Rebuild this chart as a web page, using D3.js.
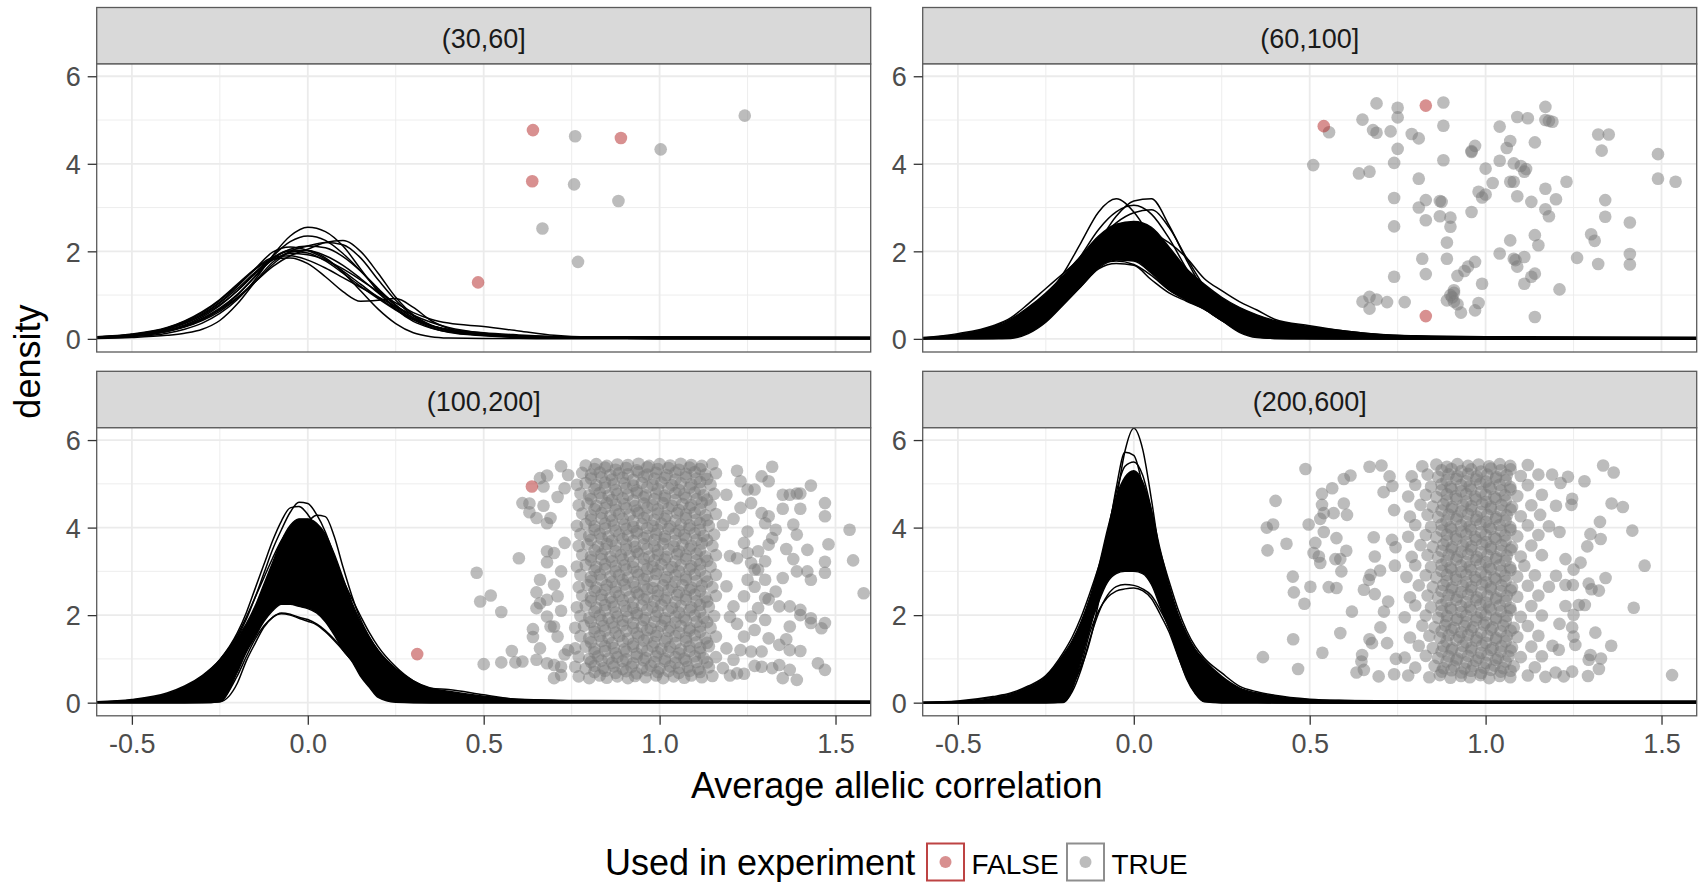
<!DOCTYPE html>
<html><head><meta charset="utf-8">
<script src="https://cdn.jsdelivr.net/npm/d3@7"></script>
<style>
body{margin:0;background:#fff}
svg{display:block}
text{font-family:"Liberation Sans",Arial,Helvetica,sans-serif}
</style>
</head><body>
<svg id="c" width="1703" height="882"></svg>
<script>
// ---------- categories & ticks ----------
const panelLabels = ["(30,60]", "(60,100]", "(100,200]", "(200,600]"];
const xTicks = [-0.5, 0, 0.5, 1, 1.5];
const xMinor = [-0.25, 0.25, 0.75, 1.25];
const yTicks = [0, 2, 4, 6];
const yMinor = [1, 3, 5];
const legendLabels = ["FALSE", "TRUE"];

// ---------- density curves (x grids + y values) ----------
const gridCoarse = [-0.6,-0.5,-0.4,-0.35,-0.3,-0.25,-0.2,-0.15,-0.1,-0.05,0,0.05,0.1,0.15,0.2,0.25,0.3,0.35,0.4,0.5,0.6,0.7,0.8,1.0,1.6];
const gridFine = [-0.6,-0.5,-0.4,-0.35,-0.3,-0.25,-0.2,-0.175,-0.15,-0.125,-0.1,-0.075,-0.05,-0.025,0,0.025,0.05,0.075,0.1,0.125,0.15,0.175,0.2,0.25,0.3,0.35,0.4,0.5,0.6,0.8,1.0,1.6];

const p1Curves = [
 [0.02,0.05,0.13,0.22,0.36,0.58,0.9,1.35,1.9,2.35,2.55,2.45,2.12,1.6,1.08,0.68,0.4,0.25,0.16,0.08,0.04,0.03,0.03,0.03,0.03],
 [0.03,0.07,0.18,0.29,0.45,0.68,1.0,1.42,1.88,2.22,2.35,2.25,1.95,1.55,1.12,0.76,0.48,0.3,0.19,0.09,0.05,0.03,0.02,0.02,0.02],
 [0.03,0.07,0.17,0.27,0.42,0.63,0.93,1.3,1.7,2.0,2.12,2.2,2.15,1.85,1.35,0.88,0.52,0.3,0.18,0.09,0.05,0.03,0.02,0.01,0.01],
 [0.04,0.1,0.24,0.38,0.57,0.84,1.2,1.6,1.98,2.1,2.02,1.82,1.55,1.25,0.95,0.68,0.45,0.3,0.2,0.1,0.06,0.05,0.04,0.04,0.035],
 [0.04,0.1,0.25,0.4,0.6,0.88,1.22,1.58,1.82,1.85,1.72,1.42,1.08,0.86,0.88,0.92,0.72,0.42,0.24,0.1,0.05,0.03,0.02,0.01,0],
 [0.01,0.03,0.08,0.13,0.22,0.42,0.8,1.3,1.75,1.98,2.02,1.9,1.68,1.38,1.05,0.72,0.44,0.26,0.15,0.07,0.03,0.02,0.02,0.02,0.015],
 [0.04,0.09,0.22,0.35,0.53,0.78,1.1,1.48,1.8,1.95,1.92,1.8,1.6,1.35,1.08,0.82,0.6,0.45,0.36,0.28,0.18,0.08,0.04,0.03,0.02],
 [0.03,0.08,0.2,0.32,0.5,0.76,1.1,1.5,1.85,2.03,2.02,1.85,1.52,1.1,0.68,0.35,0.14,0.05,0.02,0.01,0.01,0,0,0,0],
 [0.03,0.07,0.17,0.28,0.44,0.66,0.95,1.3,1.65,1.9,2.05,2.2,2.25,2.0,1.5,0.95,0.55,0.32,0.2,0.1,0.05,0.03,0.02,0.01,0.01],
 [0.05,0.11,0.26,0.41,0.62,0.9,1.25,1.6,1.86,1.9,1.8,1.62,1.4,1.18,0.96,0.74,0.54,0.38,0.26,0.13,0.07,0.05,0.04,0.04,0.03],
 [0.04,0.09,0.22,0.36,0.55,0.82,1.15,1.52,1.85,2.0,1.96,1.78,1.5,1.2,0.92,0.66,0.44,0.3,0.22,0.14,0.09,0.05,0.03,0.03,0.025],
 [0.03,0.07,0.18,0.3,0.47,0.7,1.02,1.42,1.82,2.05,2.12,2.08,1.88,1.55,1.15,0.78,0.48,0.3,0.2,0.11,0.06,0.03,0.02,0.01,0.005]
];

const p2BandUpper = [0.02,0.1,0.28,0.45,0.72,1.05,1.45,1.9,2.35,2.62,2.68,2.55,2.1,1.6,1.25,0.95,0.72,0.55,0.42,0.28,0.18,0.1,0.07,0.05,0.04];
const p2BandLower = [0,0,0,0.01,0.12,0.38,0.78,1.2,1.62,1.8,1.78,1.5,1.12,0.88,0.68,0.42,0.15,0.03,0.01,0,0,0,0,0,0];
const p2Curves = [
 [0.01,0.04,0.15,0.3,0.55,0.95,1.5,2.2,2.9,3.2,2.9,2.3,1.65,1.1,0.7,0.42,0.25,0.15,0.1,0.05,0.02,0.01,0.01,0,0],
 [0.01,0.03,0.1,0.2,0.38,0.68,1.1,1.6,2.2,2.8,3.15,3.2,2.6,1.8,1.1,0.62,0.32,0.16,0.08,0.03,0.01,0.01,0,0,0],
 [0.01,0.04,0.13,0.25,0.45,0.8,1.3,1.9,2.5,2.9,3.05,2.85,2.3,1.6,1.0,0.58,0.32,0.18,0.1,0.04,0.02,0.01,0,0,0],
 [0.01,0.05,0.15,0.28,0.48,0.8,1.25,1.75,2.25,2.65,2.88,2.95,2.55,1.85,1.2,0.72,0.42,0.25,0.15,0.06,0.03,0.01,0.01,0,0],
 [0.03,0.12,0.3,0.48,0.8,1.15,1.5,1.85,2.2,2.45,2.5,2.42,2.2,1.85,1.38,1.1,0.85,0.66,0.45,0.3,0.18,0.1,0.06,0.03,0.02],
 [0,0,0.01,0.03,0.18,0.42,0.8,1.2,1.6,1.72,1.68,1.35,1.05,0.86,0.68,0.42,0.18,0.05,0.01,0,0,0,0,0,0],
 [0,0.01,0.03,0.08,0.25,0.5,0.9,1.32,1.72,1.78,1.7,1.45,1.12,0.92,0.75,0.55,0.3,0.12,0.04,0.01,0,0,0,0,0]
];

const p3BandUpper = [0.01,0.05,0.18,0.35,0.6,0.95,1.5,1.8,2.2,2.7,3.2,3.7,4.05,4.2,4.2,4.1,3.85,3.4,2.85,2.3,1.85,1.5,1.2,0.78,0.5,0.33,0.26,0.15,0.08,0.05,0.045,0.04];
const p3BandLower = [0,0,0,0,0,0.02,0.7,1.15,1.5,1.85,2.1,2.25,2.25,2.2,2.15,2.05,1.85,1.55,1.2,0.95,0.6,0.35,0.12,0.01,0,0,0,0,0,0,0,0];
const p3Curves = [
 [0.01,0.05,0.17,0.3,0.52,0.88,1.5,1.9,2.4,2.95,3.5,3.95,4.35,4.58,4.55,4.3,3.9,3.35,2.75,2.2,1.7,1.3,1.0,0.6,0.36,0.22,0.14,0.06,0.03,0.01,0.01,0],
 [0.01,0.06,0.2,0.36,0.6,0.98,1.6,2.05,2.6,3.15,3.7,4.15,4.45,4.48,4.3,3.95,3.45,2.9,2.35,1.85,1.45,1.12,0.88,0.55,0.35,0.22,0.15,0.07,0.03,0.01,0.01,0],
 [0.01,0.04,0.14,0.26,0.45,0.78,1.3,1.65,2.1,2.6,3.1,3.55,3.9,4.1,4.15,4.28,4.25,3.8,3.1,2.45,1.9,1.5,1.18,0.75,0.46,0.3,0.22,0.1,0.05,0.02,0.01,0],
 [0.02,0.07,0.22,0.38,0.62,0.98,1.55,1.95,2.4,2.85,3.3,3.7,3.95,4.0,3.95,3.8,3.55,3.2,2.8,2.38,1.98,1.6,1.28,0.82,0.5,0.33,0.3,0.18,0.07,0.03,0.02,0.01],
 [0,0,0,0,0.01,0.05,0.62,1.05,1.45,1.75,1.95,2.03,2.0,1.93,1.86,1.78,1.62,1.42,1.2,0.96,0.7,0.42,0.2,0.04,0.01,0,0,0,0,0,0,0],
 [0,0,0,0,0,0.02,0.45,0.95,1.35,1.72,1.95,2.05,2.02,1.95,1.9,1.8,1.65,1.45,1.22,0.98,0.65,0.38,0.15,0.03,0,0,0,0,0,0,0,0]
];

const p4BandUpper = [0.01,0.03,0.12,0.2,0.36,0.6,1.1,1.42,1.85,2.4,3.1,3.95,4.7,5.15,5.3,5.05,4.4,3.5,2.7,2.05,1.58,1.22,0.98,0.6,0.34,0.22,0.15,0.07,0.05,0.045,0.04,0.04];
const p4BandLower = [0,0,0,0,0,0,0,0.3,0.95,1.7,2.3,2.75,2.95,3.0,3.0,2.95,2.7,2.2,1.7,1.1,0.55,0.2,0.02,0,0,0,0,0,0,0,0,0];
const p4Curves = [
 [0,0,0.01,0.02,0.04,0.09,0.25,0.45,0.8,1.4,2.3,3.4,4.6,5.75,6.27,5.8,4.65,3.3,2.1,1.25,0.7,0.38,0.2,0.06,0.02,0.01,0,0,0,0,0,0],
 [0,0.01,0.02,0.04,0.08,0.18,0.42,0.7,1.1,1.7,2.6,3.7,4.9,5.72,5.65,4.95,3.9,2.85,1.95,1.25,0.78,0.48,0.3,0.12,0.05,0.02,0.01,0,0,0,0,0],
 [0,0.01,0.03,0.06,0.12,0.25,0.55,0.88,1.35,2.0,2.85,3.85,4.8,5.4,5.5,5.2,4.4,3.4,2.45,1.65,1.05,0.65,0.4,0.16,0.07,0.03,0.02,0.01,0,0,0,0],
 [0.01,0.04,0.14,0.22,0.38,0.62,1.15,1.5,1.95,2.5,3.1,3.75,4.25,4.55,4.6,4.45,4.05,3.45,2.78,2.15,1.65,1.28,1.02,0.68,0.38,0.25,0.17,0.08,0.05,0.03,0.02,0.01],
 [0,0,0,0,0,0,0.02,0.35,0.85,1.6,2.1,2.4,2.55,2.6,2.62,2.56,2.38,2.02,1.62,1.08,0.58,0.22,0.03,0,0,0,0,0,0,0,0,0],
 [0,0,0,0,0,0,0.01,0.25,0.75,1.45,2.05,2.45,2.65,2.7,2.68,2.6,2.45,2.12,1.72,1.2,0.65,0.28,0.06,0,0,0,0,0,0,0,0,0]
];

// ---------- jittered points [x, y] ----------
const p1False = [[.64,4.77],[.638,3.6],[.89,4.59],[.484,1.29]];
const p1True = [[.76,4.63],[.757,3.53],[.667,2.52],[.768,1.76],[.883,3.15],[1.003,4.33],[1.242,5.1]];

const p2False = [[.54,4.86],[.83,5.33],[.83,.52]];
const p2True = [[.51,3.97],[.555,4.72],[.65,5.01],[.69,5.38],[.68,4.77],[.69,4.71],[.73,4.74],[.75,5.28],[.75,5.06],[.75,4.34],[.74,4.02],[.64,3.78],[.67,3.82],[.79,4.68],[.81,4.58],[.88,5.4],[.88,4.87],[.88,4.08],[.81,3.66],[.74,3.22],[.83,3.17],[.81,3.0],[.87,3.15],[.875,3.13],[.83,2.71],[.87,2.8],[.90,2.77],[.90,2.56],[.74,2.57],[.89,2.2],[.82,1.83],[.89,1.83],[.74,1.42],[.83,1.48],[.92,1.44],[.94,1.55],[.95,1.65],[.97,1.76],[.99,1.26],[.91,1.11],[.90,1.0],[.89,.88],[.91,.85],[.92,.79],[.93,.6],[.97,.65],[.98,.82],[.65,.85],[.67,.96],[.69,.9],[.67,.69],[.72,.84],[.77,.84],[.96,2.9],[.97,4.41],[.96,4.27],[1.0,3.89],[1.02,3.56],[.98,3.36],[.99,3.23],[1.0,3.3],[1.04,4.85],[1.09,5.07],[1.12,5.04],[1.17,5.3],[1.17,5.0],[1.19,4.96],[1.18,4.98],[1.07,4.52],[1.06,4.36],[1.14,4.49],[1.04,4.07],[1.08,4.01],[1.10,3.95],[1.11,3.82],[1.115,3.88],[1.07,3.59],[1.08,3.59],[1.17,3.43],[1.23,3.59],[1.2,3.19],[1.09,3.26],[1.13,3.13],[1.17,2.96],[1.18,2.8],[1.14,2.37],[1.15,2.14],[1.07,2.25],[1.04,1.95],[1.08,1.83],[1.085,1.8],[1.11,1.87],[1.09,1.65],[1.14,1.49],[1.11,1.26],[1.13,1.42],[1.21,1.13],[1.14,.5],[1.32,4.67],[1.35,4.67],[1.33,4.3],[1.49,4.22],[1.49,3.66],[1.54,3.59],[1.34,3.17],[1.34,2.79],[1.41,2.66],[1.30,2.39],[1.31,2.24],[1.26,1.85],[1.32,1.71],[1.41,1.94],[1.41,1.7],[.96,4.29],[.905,.95],[.91,1.05]];

const p3False = [[.637,4.94],[.311,1.11]];
const p3TrueOuter = [[.48,2.97],[.49,2.31],[.52,2.45],[.55,2.07],[.50,.88],[.55,.92],[.59,.92],[.58,1.18],[.61,.94],[.60,3.30],[.61,4.56],[.63,4.55],[.63,4.35],[.65,4.22],[.68,4.10],[.69,4.22],[.67,4.5],[.66,5.13],[.68,5.19],[.67,4.94],[.72,5.4],[.73,3.65],[.68,3.46],[.70,3.42],[.68,3.21],[.66,2.81],[.65,2.52],[.65,2.16],[.66,2.27],[.68,2.35],[.71,2.43],[.64,1.68],[.64,1.5],[.68,1.97],[.69,1.74],[.70,1.74],[.71,1.51],[.66,1.24],[.65,.98],[.68,.9],[.70,.86],[.72,.82],[.70,.56],[.72,.63],[.74,1.2],[.70,2.7],[.72,3.0],[.71,4.7],[.73,4.9],[.74,5.2],[.72,2.1],[.73,1.1],
[1.32,5.39],[1.29,5.17],[1.31,5.06],[1.43,4.96],[1.35,4.75],[1.37,4.75],[1.39,4.78],[1.40,4.78],[1.47,4.56],[1.47,4.26],[1.35,4.43],[1.40,4.43],[1.54,3.95],[1.38,4.07],[1.39,3.84],[1.48,3.62],[1.42,3.49],[1.55,3.25],[1.47,3.22],[1.36,3.51],[1.38,3.28],[1.39,3.0],[1.42,3.0],[1.43,2.81],[1.47,2.97],[1.58,2.5],[1.35,2.85],[1.33,2.54],[1.34,2.2],[1.37,2.2],[1.40,2.0],[1.40,2.12],[1.43,1.93],[1.43,1.82],[1.46,1.7],[1.47,1.82],[1.37,1.74],[1.31,1.47],[1.34,1.32],[1.36,1.45],[1.37,1.2],[1.40,1.18],[1.45,.9],[1.47,.75],[1.39,.52],[1.35,.56],[1.37,.75],[1.34,.86],[1.32,.79],[1.29,.82],[1.27,.84],[1.24,.66],[1.22,.67],[1.26,1.17],[1.29,1.17],[1.27,1.66],[1.30,1.89],[1.28,2.16],[1.30,2.39],[1.31,2.36],[1.27,2.65],[1.30,2.81],[1.28,3.04],[1.27,3.04],[1.30,3.23],[1.28,3.46],[1.31,3.61],[1.32,3.76],[1.33,3.95],[1.30,4.1],[1.31,4.26],[1.29,4.33],[1.26,4.56],[1.27,4.87],[1.25,4.87],[1.23,5.06],[1.23,4.45],[1.25,3.91],[1.24,3.65],[1.25,3.42],[1.26,3.19],[1.25,2.81],[1.24,2.43],[1.26,1.97],[1.24,1.51],[1.23,1.2],[1.21,.98],[1.22,5.3],[1.21,4.2],[1.22,3.3],[1.21,2.2],[1.22,1.8],[1.2,.62]];
const p3TrueCore = [
[.77,.60],[.80,.56],[.83,.62],[.85,.57],[.88,.60],[.91,.56],[.93,.61],[.96,.58],[.99,.62],[1.01,.56],[1.04,.60],[1.07,.57],[1.09,.62],[1.12,.58],[1.15,.61],
[.76,.82],[.79,.78],[.815,.84],[.84,.79],[.87,.83],[.895,.77],[.92,.82],[.95,.79],[.975,.84],[1.0,.78],[1.03,.83],[1.055,.79],[1.08,.82],[1.11,.77],[1.14,.81],[1.18,.79],
[.77,1.05],[.80,1.0],[.825,1.06],[.855,1.01],[.88,1.04],[.905,.99],[.935,1.05],[.96,1.02],[.99,1.06],[1.015,1.0],[1.045,1.04],[1.07,1.01],[1.10,1.06],[1.125,1.02],[1.16,1.04],
[.76,1.24],[.79,1.28],[.815,1.23],[.845,1.29],[.87,1.25],[.90,1.22],[.925,1.28],[.95,1.24],[.98,1.29],[1.005,1.23],[1.03,1.27],[1.06,1.22],[1.085,1.28],[1.115,1.25],[1.14,1.29],[1.19,1.24],
[.775,1.52],[.80,1.47],[.83,1.53],[.855,1.48],[.885,1.52],[.91,1.46],[.94,1.51],[.965,1.48],[.99,1.53],[1.02,1.47],[1.045,1.52],[1.075,1.49],[1.10,1.54],[1.13,1.47],[1.16,1.51],
[.76,1.71],[.785,1.76],[.815,1.70],[.84,1.75],[.87,1.72],[.895,1.77],[.925,1.71],[.95,1.74],[.975,1.70],[1.005,1.76],[1.03,1.72],[1.06,1.75],[1.085,1.70],[1.115,1.74],[1.145,1.71],
[.775,1.98],[.80,1.94],[.83,1.99],[.855,1.93],[.88,1.97],[.91,1.95],[.935,2.0],[.96,1.94],[.99,1.98],[1.015,1.93],[1.045,1.97],[1.07,1.95],[1.10,1.99],[1.125,1.94],[1.155,1.98],[1.20,1.96],
[.765,2.18],[.79,2.22],[.82,2.17],[.845,2.23],[.87,2.19],[.90,2.21],[.925,2.16],[.95,2.22],[.98,2.18],[1.005,2.23],[1.035,2.17],[1.06,2.21],[1.09,2.18],[1.115,2.23],[1.14,2.19],
[.78,2.45],[.805,2.41],[.835,2.46],[.86,2.40],[.885,2.44],[.915,2.42],[.94,2.47],[.965,2.41],[.995,2.45],[1.02,2.40],[1.05,2.46],[1.075,2.43],[1.10,2.47],[1.13,2.41],[1.16,2.44],
[.77,2.64],[.795,2.69],[.82,2.63],[.85,2.68],[.875,2.65],[.90,2.70],[.93,2.64],[.955,2.67],[.98,2.62],[1.01,2.68],[1.035,2.65],[1.065,2.69],[1.09,2.63],[1.12,2.67],[1.15,2.64],[1.19,2.66],
[.775,2.92],[.805,2.87],[.83,2.93],[.86,2.88],[.885,2.91],[.91,2.86],[.94,2.92],[.965,2.89],[.99,2.94],[1.02,2.87],[1.045,2.91],[1.075,2.88],[1.10,2.93],[1.13,2.89],[1.16,2.92],
[.765,3.11],[.79,3.15],[.82,3.10],[.845,3.16],[.875,3.12],[.90,3.14],[.925,3.09],[.955,3.15],[.98,3.11],[1.005,3.16],[1.035,3.10],[1.06,3.14],[1.09,3.12],[1.115,3.16],[1.145,3.11],
[.78,3.38],[.805,3.34],[.835,3.39],[.86,3.33],[.89,3.37],[.915,3.35],[.94,3.40],[.97,3.34],[.995,3.38],[1.02,3.33],[1.05,3.39],[1.075,3.36],[1.105,3.40],[1.13,3.34],[1.16,3.37],[1.2,3.35],
[.77,3.58],[.795,3.62],[.825,3.57],[.85,3.63],[.875,3.59],[.905,3.61],[.93,3.56],[.955,3.62],[.985,3.58],[1.01,3.63],[1.04,3.57],[1.065,3.61],[1.09,3.59],[1.12,3.64],[1.15,3.58],
[.775,3.85],[.80,3.81],[.83,3.86],[.855,3.80],[.885,3.84],[.91,3.82],[.935,3.87],[.965,3.81],[.99,3.85],[1.015,3.80],[1.045,3.86],[1.07,3.83],[1.10,3.87],[1.125,3.81],[1.155,3.84],
[.765,4.04],[.79,4.08],[.815,4.03],[.845,4.09],[.87,4.05],[.90,4.07],[.925,4.02],[.95,4.08],[.98,4.04],[1.005,4.09],[1.03,4.03],[1.06,4.07],[1.085,4.05],[1.115,4.10],[1.14,4.04],[1.18,4.06],
[.78,4.32],[.805,4.28],[.835,4.33],[.86,4.27],[.885,4.31],[.915,4.29],[.94,4.34],[.965,4.28],[.995,4.32],[1.02,4.27],[1.05,4.33],[1.075,4.30],[1.10,4.34],[1.13,4.28],[1.16,4.31],
[.77,4.51],[.795,4.55],[.82,4.50],[.85,4.56],[.875,4.52],[.90,4.54],[.93,4.49],[.955,4.55],[.98,4.51],[1.01,4.56],[1.035,4.50],[1.065,4.54],[1.09,4.52],[1.12,4.57],[1.145,4.51],
[.775,4.78],[.80,4.74],[.83,4.79],[.855,4.73],[.88,4.77],[.91,4.75],[.935,4.80],[.96,4.74],[.99,4.78],[1.015,4.73],[1.045,4.79],[1.07,4.76],[1.10,4.80],[1.125,4.74],[1.155,4.77],[1.19,4.75],
[.765,4.98],[.79,5.02],[.82,4.97],[.845,5.03],[.87,4.99],[.90,5.01],[.925,4.96],[.95,5.02],[.98,4.98],[1.005,5.03],[1.035,4.97],[1.06,5.01],[1.09,4.99],[1.115,5.04],[1.145,4.98],
[.78,5.25],[.805,5.21],[.83,5.26],[.86,5.20],[.885,5.24],[.91,5.22],[.94,5.27],[.965,5.21],[.99,5.25],[1.02,5.20],[1.045,5.26],[1.075,5.23],[1.10,5.27],[1.13,5.21],[1.16,5.24],
[.79,5.42],[.82,5.45],[.85,5.41],[.88,5.44],[.91,5.43],[.94,5.46],[.97,5.41],[1.0,5.45],[1.03,5.42],[1.06,5.46],[1.09,5.43],[1.12,5.41],[1.15,5.45]];
const p3TrueCore2 = [
[.815,.70],[.845,.73],[.875,.68],[.905,.72],[.935,.67],[.965,.74],[.995,.70],[1.025,.72],[1.055,.68],[1.085,.73],[1.115,.70],
[.805,.93],[.835,.96],[.865,.91],[.895,.95],[.925,.90],[.955,.97],[.985,.93],[1.015,.95],[1.045,.91],[1.075,.96],[1.105,.93],[1.135,.92],
[.815,1.15],[.845,1.18],[.875,1.13],[.905,1.17],[.935,1.12],[.965,1.19],[.995,1.15],[1.025,1.17],[1.055,1.13],[1.085,1.18],[1.115,1.15],
[.805,1.38],[.835,1.41],[.865,1.36],[.895,1.40],[.925,1.35],[.955,1.42],[.985,1.38],[1.015,1.40],[1.045,1.36],[1.075,1.41],[1.105,1.38],[1.135,1.37],
[.815,1.62],[.845,1.65],[.875,1.60],[.905,1.64],[.935,1.59],[.965,1.66],[.995,1.62],[1.025,1.64],[1.055,1.60],[1.085,1.65],[1.115,1.62],
[.805,1.85],[.835,1.88],[.865,1.83],[.895,1.87],[.925,1.82],[.955,1.89],[.985,1.85],[1.015,1.87],[1.045,1.83],[1.075,1.88],[1.105,1.85],[1.135,1.84],
[.815,2.08],[.845,2.11],[.875,2.06],[.905,2.10],[.935,2.05],[.965,2.12],[.995,2.08],[1.025,2.10],[1.055,2.06],[1.085,2.11],[1.115,2.08],
[.805,2.32],[.835,2.35],[.865,2.30],[.895,2.34],[.925,2.29],[.955,2.36],[.985,2.32],[1.015,2.34],[1.045,2.30],[1.075,2.35],[1.105,2.32],[1.135,2.31],
[.815,2.55],[.845,2.58],[.875,2.53],[.905,2.57],[.935,2.52],[.965,2.59],[.995,2.55],[1.025,2.57],[1.055,2.53],[1.085,2.58],[1.115,2.55],
[.805,2.78],[.835,2.81],[.865,2.76],[.895,2.80],[.925,2.75],[.955,2.82],[.985,2.78],[1.015,2.80],[1.045,2.76],[1.075,2.81],[1.105,2.78],[1.135,2.77],
[.815,3.02],[.845,3.05],[.875,3.00],[.905,3.04],[.935,2.99],[.965,3.06],[.995,3.02],[1.025,3.04],[1.055,3.00],[1.085,3.05],[1.115,3.02],
[.805,3.25],[.835,3.28],[.865,3.23],[.895,3.27],[.925,3.22],[.955,3.29],[.985,3.25],[1.015,3.27],[1.045,3.23],[1.075,3.28],[1.105,3.25],[1.135,3.24],
[.815,3.48],[.845,3.51],[.875,3.46],[.905,3.50],[.935,3.45],[.965,3.52],[.995,3.48],[1.025,3.50],[1.055,3.46],[1.085,3.51],[1.115,3.48],
[.805,3.72],[.835,3.75],[.865,3.70],[.895,3.74],[.925,3.69],[.955,3.76],[.985,3.72],[1.015,3.74],[1.045,3.70],[1.075,3.75],[1.105,3.72],[1.135,3.71],
[.815,3.95],[.845,3.98],[.875,3.93],[.905,3.97],[.935,3.92],[.965,3.99],[.995,3.95],[1.025,3.97],[1.055,3.93],[1.085,3.98],[1.115,3.95],
[.805,4.18],[.835,4.21],[.865,4.16],[.895,4.20],[.925,4.15],[.955,4.22],[.985,4.18],[1.015,4.20],[1.045,4.16],[1.075,4.21],[1.105,4.18],[1.135,4.17],
[.815,4.42],[.845,4.45],[.875,4.40],[.905,4.44],[.935,4.39],[.965,4.46],[.995,4.42],[1.025,4.44],[1.055,4.40],[1.085,4.45],[1.115,4.42],
[.805,4.65],[.835,4.68],[.865,4.63],[.895,4.67],[.925,4.62],[.955,4.69],[.985,4.65],[1.015,4.67],[1.045,4.63],[1.075,4.68],[1.105,4.65],[1.135,4.64],
[.815,4.88],[.845,4.91],[.875,4.86],[.905,4.90],[.935,4.85],[.965,4.92],[.995,4.88],[1.025,4.90],[1.055,4.86],[1.085,4.91],[1.115,4.88],
[.805,5.12],[.835,5.15],[.865,5.10],[.895,5.14],[.925,5.09],[.955,5.16],[.985,5.12],[1.015,5.14],[1.045,5.10],[1.075,5.15],[1.105,5.12],[1.135,5.11],
[.815,5.34],[.845,5.37],[.875,5.32],[.905,5.36],[.935,5.31],[.965,5.38],[.995,5.34],[1.025,5.36],[1.055,5.32],[1.085,5.37],[1.115,5.34]];

const p4False = [];
const p4TrueOuter = [[.403,4.61],[.378,4.0],[.396,4.07],[.38,3.48],[.367,1.04],[.434,3.63],[.452,2.88],[.455,2.52],[.485,2.26],[.502,2.65],[.488,5.34],[.453,1.45],[.467,.77],[.536,1.14],[.497,4.07],[.535,4.77],[.535,4.52],[.54,4.33],[.53,4.2],[.54,3.9],[.516,3.65],[.511,3.42],[.526,3.34],[.53,3.19],[.568,4.33],[.564,4.9],[.597,5.11],[.616,5.19],[.67,5.39],[.704,5.42],[.727,5.17],[.71,4.81],[.597,4.55],[.606,4.29],[.576,3.76],[.573,3.28],[.587,3.28],[.604,3.47],[.59,3.0],[.554,2.64],[.576,2.62],[.62,2.08],[.587,1.59],[.649,1.09],[.647,.94],[.633,.69],[.654,.75],[.696,.6],[.67,1.45],[.677,1.36],[.72,1.36],[.701,1.72],[.723,2.31],[.711,2.08],[.654,2.58],[.685,2.48],[.668,2.81],[.673,2.92],[.70,3.02],[.685,3.34],[.682,3.78],[.734,3.72],[.744,3.55],[.742,3.13],[.74,4.4],[.735,4.95],[.745,1.0],[.74,.65],
[1.334,5.42],[1.364,5.26],[1.281,5.06],[1.234,5.16],[1.213,5.02],[1.189,5.21],[1.246,4.66],[1.244,4.52],[1.358,4.55],[1.39,4.47],[1.325,4.13],[1.417,3.93],[1.298,3.85],[1.327,3.74],[1.289,3.57],[1.452,3.13],[1.227,3.28],[1.27,3.2],[1.25,3.04],[1.227,2.69],[1.248,2.69],[1.293,2.72],[1.301,2.59],[1.322,2.56],[1.341,2.85],[1.265,2.23],[1.282,2.23],[1.227,2.21],[1.25,2.01],[1.421,2.17],[1.312,1.6],[1.246,1.72],[1.25,1.51],[1.255,1.32],[1.208,1.21],[1.357,1.3],[1.298,1.09],[1.293,.98],[1.328,1.01],[1.322,.77],[1.291,.61],[1.246,.71],[1.222,.6],[1.53,.63],[1.199,.69],[1.2,4.5],[1.21,3.9],[1.2,2.9],[1.21,1.8]];
const p4TrueCore = [
[.78,.62],[.84,.58],[.87,.63],[.90,.57],[.93,.61],[.955,.58],[.985,.63],[1.01,.56],[1.04,.61],[1.07,.58],[1.12,.62],[1.17,.59],
[.80,.80],[.855,.84],[.88,.79],[.91,.83],[.94,.78],[.965,.84],[.995,.80],[1.025,.85],[1.05,.79],[1.08,.83],[1.14,.81],
[.77,1.03],[.83,1.07],[.865,1.02],[.895,1.06],[.92,1.01],[.95,1.07],[.98,1.03],[1.005,1.08],[1.035,1.02],[1.065,1.06],[1.10,1.04],[1.16,1.06],
[.81,1.30],[.85,1.25],[.88,1.29],[.905,1.24],[.935,1.30],[.96,1.26],[.99,1.31],[1.02,1.25],[1.045,1.29],[1.075,1.26],[1.13,1.28],[1.19,1.3],
[.785,1.49],[.84,1.53],[.87,1.48],[.895,1.54],[.925,1.50],[.95,1.55],[.975,1.49],[1.005,1.53],[1.03,1.48],[1.06,1.52],[1.09,1.50],[1.15,1.53],
[.82,1.76],[.855,1.72],[.885,1.77],[.91,1.71],[.94,1.75],[.965,1.73],[.995,1.78],[1.02,1.72],[1.05,1.76],[1.08,1.71],[1.12,1.75],
[.77,1.95],[.83,1.99],[.865,1.94],[.89,1.98],[.92,1.93],[.945,1.99],[.975,1.95],[1.0,2.0],[1.03,1.94],[1.06,1.98],[1.10,1.96],[1.16,1.99],
[.80,2.22],[.845,2.18],[.875,2.23],[.90,2.17],[.93,2.21],[.955,2.19],[.985,2.24],[1.01,2.18],[1.04,2.22],[1.07,2.17],[1.13,2.21],
[.785,2.41],[.835,2.45],[.865,2.40],[.895,2.46],[.92,2.42],[.95,2.47],[.975,2.41],[1.005,2.45],[1.03,2.40],[1.06,2.44],[1.09,2.42],[1.15,2.45],
[.81,2.68],[.85,2.64],[.88,2.69],[.905,2.63],[.935,2.67],[.96,2.65],[.99,2.70],[1.015,2.64],[1.045,2.68],[1.075,2.63],[1.12,2.67],[1.18,2.65],
[.775,2.87],[.83,2.91],[.86,2.86],[.89,2.92],[.915,2.88],[.945,2.93],[.97,2.87],[1.0,2.91],[1.025,2.86],[1.055,2.90],[1.09,2.88],[1.14,2.91],
[.80,3.14],[.845,3.10],[.875,3.15],[.90,3.09],[.93,3.13],[.955,3.11],[.985,3.16],[1.01,3.10],[1.04,3.14],[1.07,3.09],[1.11,3.13],
[.79,3.33],[.835,3.37],[.865,3.32],[.895,3.38],[.92,3.34],[.95,3.39],[.975,3.33],[1.005,3.37],[1.03,3.32],[1.06,3.36],[1.10,3.34],[1.16,3.37],
[.815,3.60],[.85,3.56],[.88,3.61],[.905,3.55],[.935,3.59],[.96,3.57],[.99,3.62],[1.015,3.56],[1.045,3.60],[1.075,3.55],[1.13,3.59],
[.78,3.79],[.83,3.83],[.86,3.78],[.89,3.84],[.915,3.80],[.945,3.85],[.97,3.79],[1.0,3.83],[1.025,3.78],[1.055,3.82],[1.09,3.80],[1.15,3.83],
[.80,4.06],[.845,4.02],[.875,4.07],[.90,4.01],[.93,4.05],[.955,4.03],[.985,4.08],[1.01,4.02],[1.04,4.06],[1.07,4.01],[1.12,4.05],[1.18,4.03],
[.785,4.25],[.835,4.29],[.865,4.24],[.895,4.30],[.92,4.26],[.95,4.31],[.975,4.25],[1.005,4.29],[1.03,4.24],[1.06,4.28],[1.10,4.26],[1.155,4.29],
[.815,4.52],[.85,4.48],[.88,4.53],[.905,4.47],[.935,4.51],[.96,4.49],[.99,4.54],[1.015,4.48],[1.045,4.52],[1.075,4.47],[1.13,4.51],
[.78,4.71],[.83,4.75],[.86,4.70],[.89,4.76],[.915,4.72],[.945,4.77],[.97,4.71],[1.0,4.75],[1.025,4.70],[1.055,4.74],[1.09,4.72],[1.16,4.75],
[.80,4.98],[.845,4.94],[.875,4.99],[.90,4.93],[.93,4.97],[.955,4.95],[.985,5.0],[1.01,4.94],[1.04,4.98],[1.07,4.93],[1.12,4.97],
[.79,5.17],[.835,5.21],[.865,5.16],[.895,5.22],[.92,5.18],[.95,5.23],[.975,5.17],[1.005,5.21],[1.03,5.16],[1.06,5.20],[1.10,5.18],[1.15,5.21],
[.82,5.40],[.86,5.44],[.89,5.39],[.92,5.45],[.95,5.41],[.98,5.44],[1.01,5.40],[1.04,5.45],[1.07,5.41],[1.12,5.43]];
const p4TrueCore2 = [
[.875,.71],[.903,.74],[.931,.69],[.959,.73],[.987,.68],[1.015,.75],[1.043,.71],[1.071,.73],
[.889,.94],[.917,.97],[.945,.92],[.973,.96],[1.001,.91],[1.029,.98],[1.057,.94],
[.875,1.17],[.903,1.20],[.931,1.15],[.959,1.19],[.987,1.14],[1.015,1.21],[1.043,1.17],[1.071,1.19],
[.889,1.40],[.917,1.43],[.945,1.38],[.973,1.42],[1.001,1.37],[1.029,1.44],[1.057,1.40],
[.875,1.63],[.903,1.66],[.931,1.61],[.959,1.65],[.987,1.60],[1.015,1.67],[1.043,1.63],[1.071,1.65],
[.889,1.86],[.917,1.89],[.945,1.84],[.973,1.88],[1.001,1.83],[1.029,1.90],[1.057,1.86],
[.875,2.09],[.903,2.12],[.931,2.07],[.959,2.11],[.987,2.06],[1.015,2.13],[1.043,2.09],[1.071,2.11],
[.889,2.32],[.917,2.35],[.945,2.30],[.973,2.34],[1.001,2.29],[1.029,2.36],[1.057,2.32],
[.875,2.55],[.903,2.58],[.931,2.53],[.959,2.57],[.987,2.52],[1.015,2.59],[1.043,2.55],[1.071,2.57],
[.889,2.78],[.917,2.81],[.945,2.76],[.973,2.80],[1.001,2.75],[1.029,2.82],[1.057,2.78],
[.875,3.01],[.903,3.04],[.931,2.99],[.959,3.03],[.987,2.98],[1.015,3.05],[1.043,3.01],[1.071,3.03],
[.889,3.24],[.917,3.27],[.945,3.22],[.973,3.26],[1.001,3.21],[1.029,3.28],[1.057,3.24],
[.875,3.47],[.903,3.50],[.931,3.45],[.959,3.49],[.987,3.44],[1.015,3.51],[1.043,3.47],[1.071,3.49],
[.889,3.70],[.917,3.73],[.945,3.68],[.973,3.72],[1.001,3.67],[1.029,3.74],[1.057,3.70],
[.875,3.93],[.903,3.96],[.931,3.91],[.959,3.95],[.987,3.90],[1.015,3.97],[1.043,3.93],[1.071,3.95],
[.889,4.16],[.917,4.19],[.945,4.14],[.973,4.18],[1.001,4.13],[1.029,4.20],[1.057,4.16],
[.875,4.39],[.903,4.42],[.931,4.37],[.959,4.41],[.987,4.36],[1.015,4.43],[1.043,4.39],[1.071,4.41],
[.889,4.62],[.917,4.65],[.945,4.60],[.973,4.64],[1.001,4.59],[1.029,4.66],[1.057,4.62],
[.875,4.85],[.903,4.88],[.931,4.83],[.959,4.87],[.987,4.82],[1.015,4.89],[1.043,4.85],[1.071,4.87],
[.889,5.08],[.917,5.11],[.945,5.06],[.973,5.10],[1.001,5.05],[1.029,5.12],[1.057,5.08],
[.875,5.31],[.903,5.34],[.931,5.29],[.959,5.33],[.987,5.28],[1.015,5.35],[1.043,5.31],[1.071,5.33]];

const p3True = p3TrueOuter.concat(p3TrueCore, p3TrueCore2);
const p4True = p4TrueOuter.concat(p4TrueCore, p4TrueCore2);

// ---------- colours ----------
const colFalse = "#B22222", colTrue = "#7a7a7a";

// ---------- layout ----------
const svg = d3.select("#c");
const panelW = 774, panelH = 288, stripH = 56.5;
const colLeft = [96.7, 922.7];
const rowTop = [7.5, 371.3];
const x = d3.scaleLinear().domain([-0.6, 1.6]).range([0, panelW]);
const y = d3.scaleLinear().domain([-0.3, 6.28]).range([panelH, 0]);

const panels = [
 {label: panelLabels[0], col: 0, row: 0, grid: gridCoarse, curves: p1Curves, lower: null, upper: null, pTrue: p1True, pFalse: p1False},
 {label: panelLabels[1], col: 1, row: 0, grid: gridCoarse, curves: p2Curves, lower: p2BandLower, upper: p2BandUpper, pTrue: p2True, pFalse: p2False},
 {label: panelLabels[2], col: 0, row: 1, grid: gridFine, curves: p3Curves, lower: p3BandLower, upper: p3BandUpper, pTrue: p3True, pFalse: p3False},
 {label: panelLabels[3], col: 1, row: 1, grid: gridFine, curves: p4Curves, lower: p4BandLower, upper: p4BandUpper, pTrue: p4True, pFalse: p4False}
];

const defs = svg.append("defs");

panels.forEach((p, i) => {
  const g = svg.append("g").attr("transform", `translate(${colLeft[p.col]},${rowTop[p.row]})`);
  g.append("rect").attr("x", 0).attr("y", 0).attr("width", panelW).attr("height", stripH)
    .attr("fill", "#d9d9d9").attr("stroke", "#5a5a5a").attr("stroke-width", 1.3);
  g.append("text").attr("x", panelW / 2).attr("y", 40).attr("text-anchor", "middle")
    .attr("font-size", 27).attr("fill", "#1a1a1a").text(p.label);

  const pg = g.append("g").attr("transform", `translate(0,${stripH})`);
  pg.append("rect").attr("width", panelW).attr("height", panelH).attr("fill", "#fff");
  defs.append("clipPath").attr("id", "clip" + i).append("rect").attr("width", panelW).attr("height", panelH);

  pg.selectAll(".vmin").data(xMinor).join("line").attr("x1", d => x(d)).attr("x2", d => x(d))
    .attr("y1", 0).attr("y2", panelH).attr("stroke", "#ebebeb").attr("stroke-width", 0.9);
  pg.selectAll(".hmin").data(yMinor).join("line").attr("y1", d => y(d)).attr("y2", d => y(d))
    .attr("x1", 0).attr("x2", panelW).attr("stroke", "#ebebeb").attr("stroke-width", 0.9);
  pg.selectAll(".vmaj").data(xTicks).join("line").attr("x1", d => x(d)).attr("x2", d => x(d))
    .attr("y1", 0).attr("y2", panelH).attr("stroke", "#ebebeb").attr("stroke-width", 1.8);
  pg.selectAll(".hmaj").data(yTicks).join("line").attr("y1", d => y(d)).attr("y2", d => y(d))
    .attr("x1", 0).attr("x2", panelW).attr("stroke", "#ebebeb").attr("stroke-width", 1.8);

  const body = pg.append("g").attr("clip-path", `url(#clip${i})`);

  if (p.lower) {
    const area = d3.area().x((d, k) => x(p.grid[k])).y0((d, k) => y(p.lower[k])).y1((d, k) => y(p.upper[k]))
      .curve(d3.curveMonotoneX);
    body.append("path").datum(p.upper).attr("d", area).attr("fill", "#000")
      .attr("stroke", "#000").attr("stroke-width", 1.4).attr("stroke-linejoin", "round");
  }
  const line = d3.line().x((d, k) => x(p.grid[k])).y(d => y(d)).curve(d3.curveMonotoneX);
  body.selectAll(".dens").data(p.curves).join("path").attr("d", line)
    .attr("fill", "none").attr("stroke", "#000").attr("stroke-width", 1.5);

  body.selectAll(".pt").data(p.pTrue).join("circle").attr("cx", d => x(d[0])).attr("cy", d => y(d[1]))
    .attr("r", 6.3).attr("fill", colTrue).attr("fill-opacity", 0.5);
  body.selectAll(".pf").data(p.pFalse).join("circle").attr("cx", d => x(d[0])).attr("cy", d => y(d[1]))
    .attr("r", 6.3).attr("fill", colFalse).attr("fill-opacity", 0.5);

  pg.append("rect").attr("width", panelW).attr("height", panelH).attr("fill", "none")
    .attr("stroke", "#5a5a5a").attr("stroke-width", 1.3);

  const ya = pg.append("g").call(d3.axisLeft(y).tickValues(yTicks).tickSize(9).tickPadding(7).tickFormat(d => String(d)));
  ya.select(".domain").remove();
  ya.selectAll(".tick line").attr("stroke", "#333").attr("stroke-width", 1.3);
  ya.selectAll(".tick text").attr("font-size", 27).attr("fill", "#4d4d4d").attr("dy", "0.36em")
    .attr("font-family", '"Liberation Sans",Arial,sans-serif');

  if (p.row === 1) {
    const xa = pg.append("g").attr("transform", `translate(0,${panelH})`)
      .call(d3.axisBottom(x).tickValues(xTicks).tickSize(9).tickPadding(9).tickFormat(d => d.toFixed(1)));
    xa.select(".domain").remove();
    xa.selectAll(".tick line").attr("stroke", "#333").attr("stroke-width", 1.3);
    xa.selectAll(".tick text").attr("font-size", 27).attr("fill", "#4d4d4d")
      .attr("font-family", '"Liberation Sans",Arial,sans-serif');
  }
});

svg.append("text").attr("transform", "translate(40,361.6) rotate(-90)").attr("text-anchor", "middle")
  .attr("font-size", 36).attr("fill", "#000").text("density");
svg.append("text").attr("x", 896.7).attr("y", 798).attr("text-anchor", "middle")
  .attr("font-size", 36).attr("fill", "#000").text("Average allelic correlation");

const leg = svg.append("g");
leg.append("text").attr("x", 605).attr("y", 875).attr("font-size", 36).attr("fill", "#000").text("Used in experiment");
const keys = [{label: legendLabels[0], col: colFalse, bx: 927, tx: 971.5}, {label: legendLabels[1], col: colTrue, bx: 1067, tx: 1111.5}];
keys.forEach(k => {
  leg.append("rect").attr("x", k.bx).attr("y", 843.5).attr("width", 37).attr("height", 37)
    .attr("fill", "#fff").attr("stroke", k.col).attr("stroke-width", 2).attr("stroke-opacity", 0.85);
  leg.append("circle").attr("cx", k.bx + 18.5).attr("cy", 862).attr("r", 6).attr("fill", k.col).attr("fill-opacity", 0.5);
  leg.append("text").attr("x", k.tx).attr("y", 874).attr("font-size", 28).attr("fill", "#000").text(k.label);
});
</script>
</body></html>
